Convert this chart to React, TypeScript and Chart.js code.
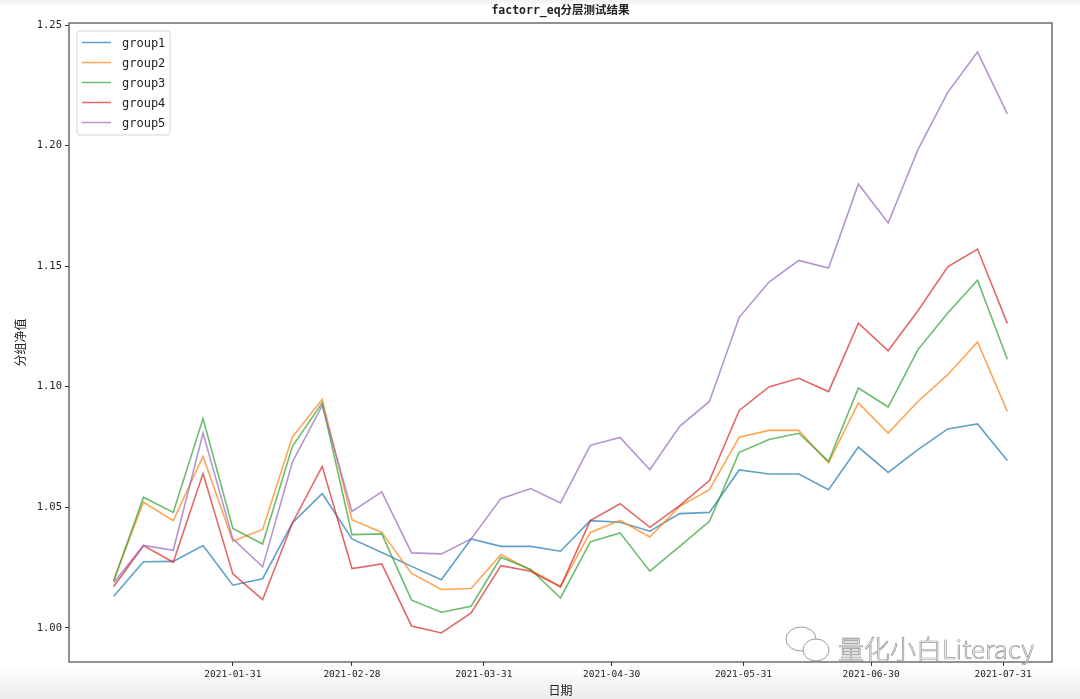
import React, { useEffect, useRef } from "react";
import { Chart, registerables } from "chart.js";

Chart.register(...registerables);

const dates = [
  "2021-01-03", "2021-01-10", "2021-01-17", "2021-01-24", "2021-01-31",
  "2021-02-07", "2021-02-14", "2021-02-21", "2021-02-28", "2021-03-07",
  "2021-03-14", "2021-03-21", "2021-03-28", "2021-04-04", "2021-04-11",
  "2021-04-18", "2021-04-25", "2021-05-02", "2021-05-09", "2021-05-16",
  "2021-05-23", "2021-05-30", "2021-06-06", "2021-06-13", "2021-06-20",
  "2021-06-27", "2021-07-04", "2021-07-11", "2021-07-18", "2021-07-25",
  "2021-08-01",
];

const group1 = [
  1.0131, 1.0274, 1.0276, 1.0342, 1.0177, 1.0204, 1.0435, 1.0557, 1.0369, 1.0313,
  1.0255, 1.0200, 1.0369, 1.0338, 1.0338, 1.0318, 1.0445, 1.0438, 1.0401, 1.0474,
  1.0479, 1.0655, 1.0638, 1.0638, 1.0573, 1.0750, 1.0645, 1.0739, 1.0825, 1.0846,
  1.0694,
];
const group2 = [
  1.0200, 1.0521, 1.0445, 1.0711, 1.0359, 1.0408, 1.0792, 1.0947, 1.0449, 1.0396,
  1.0226, 1.0159, 1.0163, 1.0304, 1.0239, 1.0172, 1.0396, 1.0446, 1.0377, 1.0504,
  1.0573, 1.0791, 1.0819, 1.0819, 1.0684, 1.0933, 1.0808, 1.0939, 1.1050, 1.1186,
  1.0898,
];
const group3 = [
  1.0193, 1.0542, 1.0479, 1.0868, 1.0412, 1.0348, 1.0753, 1.0933, 1.0387, 1.0390,
  1.0115, 1.0065, 1.0090, 1.0293, 1.0242, 1.0124, 1.0357, 1.0394, 1.0235, 1.0338,
  1.0442, 1.0728, 1.0781, 1.0807, 1.0691, 1.0995, 1.0916, 1.1154, 1.1306, 1.1442,
  1.1114,
];
const group4 = [
  1.0172, 1.0341, 1.0272, 1.0640, 1.0224, 1.0117, 1.0435, 1.0670, 1.0246, 1.0265,
  1.0008, 0.9979, 1.0062, 1.0258, 1.0235, 1.0170, 1.0445, 1.0515, 1.0417, 1.0507,
  1.0611, 1.0902, 1.0999, 1.1035, 1.0980, 1.1264, 1.1149, 1.1315, 1.1497, 1.1571,
  1.1263,
];
const group5 = [
  1.0187, 1.0342, 1.0322, 1.0808, 1.0369, 1.0253, 1.0688, 1.0922, 1.0483, 1.0564,
  1.0311, 1.0307, 1.0369, 1.0536, 1.0578, 1.0518, 1.0757, 1.0790, 1.0656, 1.0836,
  1.0939, 1.1288, 1.1434, 1.1524, 1.1492, 1.1841, 1.1679, 1.1983, 1.2221, 1.2388,
  1.2132,
];

const seriesNames = ["group1", "group2", "group3", "group4", "group5"];
const seriesValues = [group1, group2, group3, group4, group5];
const seriesColors = [
  "rgba(31,119,180,0.7)",
  "rgba(255,127,14,0.7)",
  "rgba(44,160,44,0.7)",
  "rgba(214,39,40,0.7)",
  "rgba(148,103,189,0.7)",
];

const xTickLabels = [
  "2021-01-31", "2021-02-28", "2021-03-31", "2021-04-30",
  "2021-05-31", "2021-06-30", "2021-07-31",
];
const yTickValues = [1.0, 1.05, 1.1, 1.15, 1.2, 1.25];

const titleText = "factorr_eq分层测试结果";
const xTitle = "日期";
const yTitle = "分组净值";
const watermark = "量化小白Literacy";

const MONO = '"DejaVu Sans Mono", "Noto Sans CJK SC", monospace';
const CJK = '"Noto Sans CJK SC", "DejaVu Sans", sans-serif';

const dayNum = (s: string) => {
  const [y, m, d] = s.split("-").map(Number);
  return (Date.UTC(y, m - 1, d) - Date.UTC(2021, 0, 1)) / 86400000;
};

export default function App() {
  const ref = useRef<HTMLCanvasElement | null>(null);

  useEffect(() => {
    if (!ref.current) return;
    const xs = dates.map(dayNum);
    const xMinD = Math.min(...xs);
    const xMaxD = Math.max(...xs);
    const xSpan = xMaxD - xMinD;
    const allV = seriesValues.flat();
    const vMin = Math.min(...allV);
    const vMax = Math.max(...allV);
    const vSpan = vMax - vMin;
    const tickDays = xTickLabels.map(dayNum);

    const overlay = {
      id: "overlay",
      afterDraw(chart: any) {
        const ctx = chart.ctx;
        const a = chart.chartArea;
        ctx.save();
        // frame
        ctx.strokeStyle = "#4a4a4a";
        ctx.lineWidth = 1.2;
        ctx.strokeRect(a.left, a.top, a.right - a.left, a.bottom - a.top);
        // title
        ctx.fillStyle = "#222";
        ctx.font = `bold 11.5px ${MONO}`;
        ctx.textAlign = "center";
        ctx.textBaseline = "middle";
        ctx.fillText(titleText, (a.left + a.right) / 2, 11);
        // legend
        const lx = 77, ly = 31, lw = 93, lh = 104;
        ctx.beginPath();
        ctx.roundRect(lx, ly, lw, lh, 3);
        ctx.fillStyle = "rgba(255,255,255,0.85)";
        ctx.fill();
        ctx.strokeStyle = "#d6d6d6";
        ctx.lineWidth = 1;
        ctx.stroke();
        ctx.font = `12px ${MONO}`;
        ctx.textAlign = "left";
        seriesNames.forEach((n, i) => {
          const y = 42.5 + i * 20;
          ctx.strokeStyle = seriesColors[i];
          ctx.lineWidth = 1.5;
          ctx.beginPath();
          ctx.moveTo(82, y);
          ctx.lineTo(111, y);
          ctx.stroke();
          ctx.fillStyle = "#222";
          ctx.fillText(n, 122, y + 1);
        });
        // watermark
        const bubble = (cx: number, cy: number, rx: number, ry: number) => {
          ctx.beginPath();
          ctx.ellipse(cx, cy, rx, ry, 0, 0, Math.PI * 2);
          ctx.fillStyle = "rgba(255,255,255,0.9)";
          ctx.fill();
          ctx.strokeStyle = "rgba(120,120,120,0.75)";
          ctx.lineWidth = 1;
          ctx.stroke();
        };
        bubble(801, 639, 15, 12);
        bubble(816, 650, 13, 11);
        ctx.font = `300 26px ${CJK}`;
        ctx.textBaseline = "middle";
        ctx.fillStyle = "rgba(255,255,255,0.95)";
        ctx.fillText(watermark, 838, 649);
        ctx.strokeStyle = "rgba(110,110,110,0.75)";
        ctx.lineWidth = 0.7;
        ctx.strokeText(watermark, 838, 649);
        ctx.restore();
      },
    };

    const chart = new Chart(ref.current, {
      type: "line",
      data: {
        datasets: seriesNames.map((n, i) => ({
          label: n,
          data: seriesValues[i].map((v, j) => ({ x: xs[j], y: v })),
          borderColor: seriesColors[i],
          backgroundColor: seriesColors[i],
          borderWidth: 1.6,
          pointRadius: 0,
          tension: 0,
          fill: false,
          order: seriesNames.length - 1 - i,
        })),
      },
      options: {
        responsive: false,
        animation: false,
        devicePixelRatio: 1,
        layout: { padding: { top: 23, right: 28, left: 0, bottom: 0 } },
        plugins: {
          legend: { display: false },
          tooltip: { enabled: false },
          title: { display: false },
        },
        scales: {
          x: {
            type: "linear",
            min: xMinD - 0.05 * xSpan,
            max: xMaxD + 0.05 * xSpan,
            afterBuildTicks: (axis: any) => {
              axis.ticks = tickDays.map((v) => ({ value: v }));
            },
            afterFit: (s: any) => {
              s.height = 37;
            },
            ticks: {
              autoSkip: false,
              maxRotation: 0,
              padding: 3,
              color: "#222",
              font: { size: 9.5, family: MONO },
              callback: (v: any) => {
                const k = tickDays.indexOf(Number(v));
                return k >= 0 ? xTickLabels[k] : "";
              },
            },
            grid: {
              drawOnChartArea: false,
              drawTicks: true,
              tickLength: 4,
              color: "#333",
            },
            border: { display: false },
            title: {
              display: true,
              text: xTitle,
              color: "#222",
              font: { size: 12, family: CJK },
              padding: { top: 1, bottom: 1 },
            },
          },
          y: {
            type: "linear",
            min: vMin - 0.05 * vSpan,
            max: vMax + 0.05 * vSpan,
            afterBuildTicks: (axis: any) => {
              axis.ticks = yTickValues.map((v) => ({ value: v }));
            },
            afterFit: (s: any) => {
              s.width = 69;
            },
            ticks: {
              padding: 3,
              color: "#222",
              font: { size: 10.5, family: MONO },
              callback: (v: any) => Number(v).toFixed(2),
            },
            grid: {
              drawOnChartArea: false,
              drawTicks: true,
              tickLength: 4,
              color: "#333",
            },
            border: { display: false },
            title: {
              display: true,
              text: yTitle,
              color: "#222",
              font: { size: 12, family: CJK },
              padding: { top: 13, bottom: 0 },
            },
          },
        },
      },
      plugins: [overlay],
    } as any);

    return () => chart.destroy();
  }, []);

  return (
    <div
      style={{
        position: "fixed",
        left: 0,
        top: 0,
        width: 1080,
        height: 699,
        background:
          "linear-gradient(to bottom, #f1f1f1 0px, #ffffff 6px, #ffffff 664px, #ececec 699px)",
      }}
    >
      <canvas ref={ref} width={1080} height={699} style={{ display: "block" }} />
    </div>
  );
}
